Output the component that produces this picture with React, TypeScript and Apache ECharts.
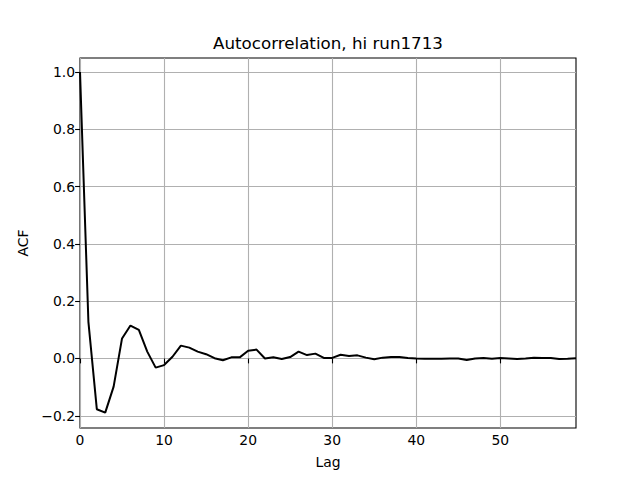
import React, { useEffect, useRef } from "react";
import * as echarts from "echarts";

const lags: number[] = Array.from({ length: 60 }, (_, i) => i);
const acfValues: number[] = [
  1.0, 0.128, -0.177, -0.189, -0.098, 0.07, 0.115, 0.1, 0.024, -0.032,
  -0.023, 0.006, 0.045, 0.038, 0.024, 0.015, 0.001, -0.006, 0.004, 0.004,
  0.027, 0.031, 0.0, 0.004, -0.002, 0.005, 0.024, 0.012, 0.017, 0.002,
  0.002, 0.013, 0.009, 0.011, 0.003, -0.003, 0.003, 0.005, 0.005, 0.002,
  0.0, -0.001, -0.001, -0.001, 0.0, 0.0, -0.005, 0.0, 0.002, -0.001,
  0.002, 0.0, -0.002, 0.0, 0.003, 0.002, 0.002, -0.002, -0.001, 0.001,
];
const xTicks: number[] = [0, 10, 20, 30, 40, 50];
const yTicks: number[] = [-0.2, 0.0, 0.2, 0.4, 0.6, 0.8, 1.0];
const titleText = "Autocorrelation, hi run1713";
const xLabel = "Lag";
const yLabel = "ACF";

const FONT = "DejaVu Sans";

export default function App() {
  const ref = useRef<HTMLDivElement>(null);
  useEffect(() => {
    document.body.style.margin = "0";
    if (!ref.current) return;
    const chart = echarts.init(ref.current, null, { renderer: "svg" });
    const left = 80, right = 576, top = 58, bottom = 428;
    chart.setOption({
      animation: false,
      backgroundColor: "#fff",
      grid: {
        left,
        top,
        width: right - left,
        height: bottom - top,
        show: true,
        borderColor: "#000",
        borderWidth: 1.1,
        containLabel: false,
      },
      xAxis: {
        type: "value",
        min: 0,
        max: 59,
        axisLine: { show: false },
        axisTick: {
          show: true,
          length: 4.9,
          customValues: xTicks,
          lineStyle: { color: "#000", width: 1.1 },
        },
        axisLabel: {
          color: "#000",
          fontFamily: FONT,
          fontSize: 13.9,
          margin: 5,
          customValues: xTicks,
        },
        splitLine: { show: true, lineStyle: { color: "#b0b0b0", width: 1.1 } },
      },
      yAxis: {
        type: "value",
        min: -0.2426,
        max: 1.0488,
        axisLine: { show: false },
        axisTick: {
          show: true,
          length: 4.9,
          customValues: yTicks,
          lineStyle: { color: "#000", width: 1.1 },
        },
        axisLabel: {
          color: "#000",
          fontFamily: FONT,
          fontSize: 13.9,
          margin: 5,
          customValues: yTicks,
          formatter: (v: number) => v.toFixed(1).replace("-", "\u2212"),
        },
        splitLine: { show: true, lineStyle: { color: "#b0b0b0", width: 1.1 } },
      },
      series: [
        {
          type: "line",
          data: lags.map((l, i) => [l, acfValues[i]]),
          showSymbol: false,
          symbol: "none",
          lineStyle: { color: "#000", width: 2 },
          clip: true,
        },
      ],
      graphic: [
        {
          type: "text",
          x: (left + right) / 2,
          y: 43,
          style: {
            text: titleText,
            fontFamily: FONT,
            fontSize: 16.7,
            fill: "#000",
            align: "center",
            verticalAlign: "middle",
          },
        },
        {
          type: "text",
          x: (left + right) / 2,
          y: 462,
          style: {
            text: xLabel,
            fontFamily: FONT,
            fontSize: 13.9,
            fill: "#000",
            align: "center",
            verticalAlign: "middle",
          },
        },
        {
          type: "text",
          x: 23,
          y: (top + bottom) / 2,
          rotation: Math.PI / 2,
          style: {
            text: yLabel,
            fontFamily: FONT,
            fontSize: 13.9,
            fill: "#000",
            align: "center",
            verticalAlign: "middle",
          },
        },
      ],
    });
    return () => chart.dispose();
  }, []);
  return <div ref={ref} style={{ width: 640, height: 480 }} />;
}
